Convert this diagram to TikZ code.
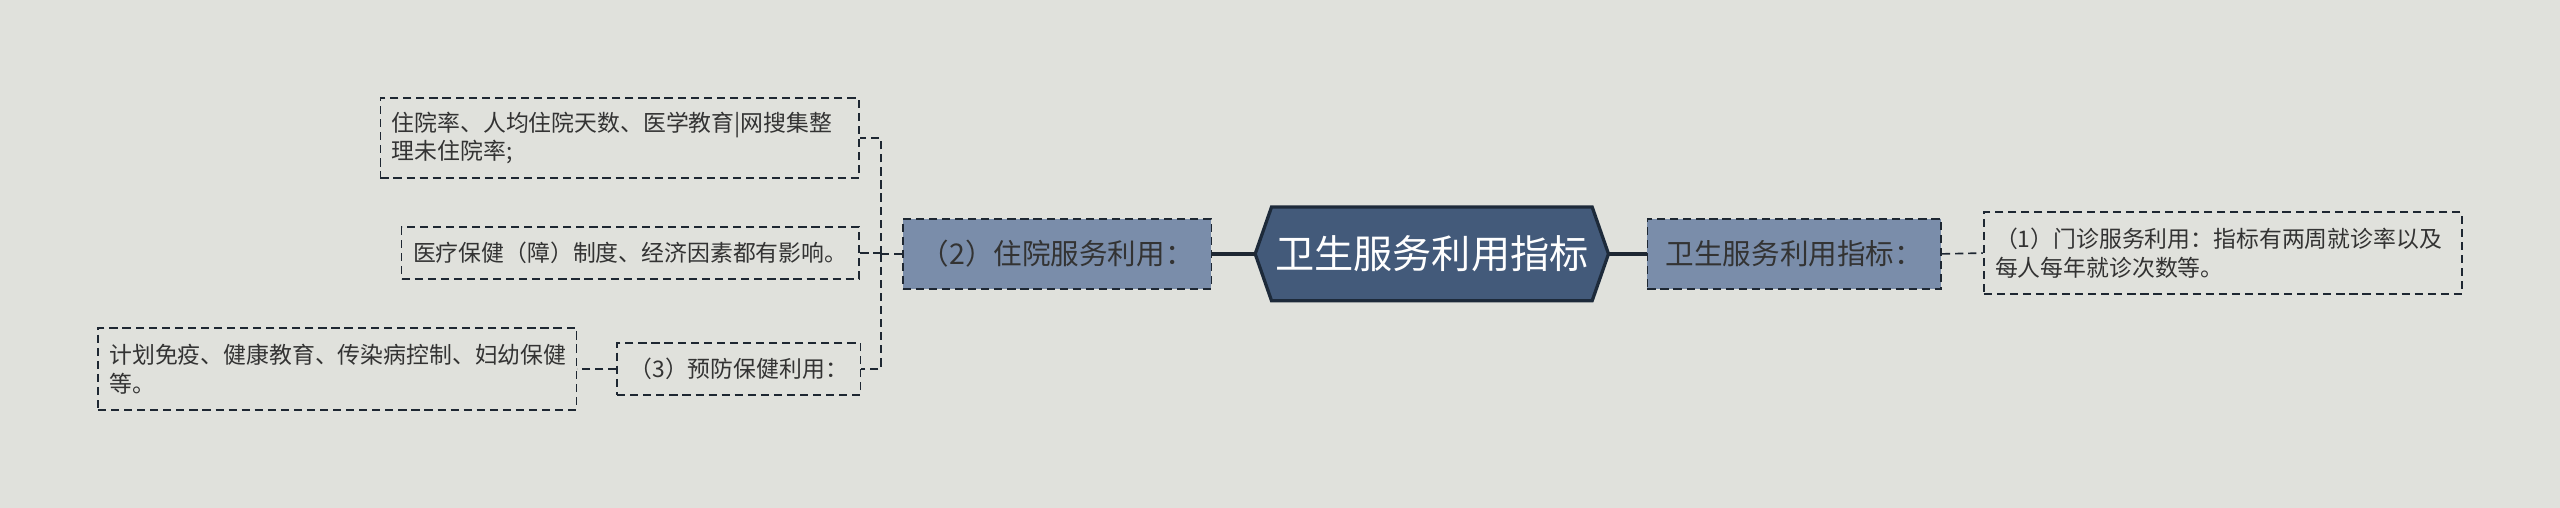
\documentclass[tikz,border=0pt]{standalone}
\usepackage{fontspec}
\newfontfamily\cjk{Noto Sans CJK SC}
\usetikzlibrary{backgrounds,calc}
\definecolor{bg}{HTML}{E0E1DC}
\definecolor{rootfill}{HTML}{435A7A}
\definecolor{rootline}{HTML}{1D2A3A}
\definecolor{subfill}{HTML}{7A8DAA}
\definecolor{lineclr}{HTML}{1E2732}
\definecolor{txt}{HTML}{333333}
\begin{document}
\begin{tikzpicture}[x=1pt,y=-1pt,
 leaf/.style={draw=lineclr, dash pattern=on 5pt off 3pt, line width=1pt,
   font=\cjk\fontsize{14}{17.5}\selectfont, text=txt, inner xsep=7pt, inner ysep=0pt, align=left},
 sub/.style={leaf, fill=subfill, font=\cjk\fontsize{17.5}{20}\selectfont, text=txt, align=center},
 rootnode/.style={minimum width=196pt, minimum height=57pt, inner sep=0pt,
   font=\cjk\fontsize{24}{27}\selectfont, text=white},
 conn/.style={draw=lineclr, line width=1pt, dash pattern=on 5pt off 3pt},
 rootconn/.style={draw=lineclr, line width=2.5pt}]
\begin{pgfonlayer}{background}
\fill[bg] (0,0) rectangle (1568,311);
\end{pgfonlayer}
\useasboundingbox (0,0) rectangle (1568,311);

\node[rootnode] (root) at (877,155.5) {卫生服务利用指标};
\coordinate (rootR) at ([xshift=10pt]root.east);
\coordinate (rootL) at ([xshift=-10pt]root.west);
\begin{pgfonlayer}{background}
\draw[fill=rootfill, draw=rootline, line width=2pt, line join=miter]
  (root.north west) -- (root.north east) -- (rootR) -- (root.south east)
  -- (root.south west) -- (rootL) -- cycle;
\end{pgfonlayer}

\node[sub, minimum width=180pt, minimum height=43pt] (rs) at (1099,155.5) {卫生服务利用指标：};
\node[leaf, text width=279pt, minimum height=50pt] (rl) at (1361.5,155) {（1）门诊服务利用：指标有两周就诊率以及\\每人每年就诊次数等。};

\node[sub, minimum width=189pt, minimum height=43pt] (ls) at (647.5,155.5) {（2）住院服务利用：};
\node[leaf, text width=279pt, minimum height=49pt] (l1) at (379.5,84.5) {住院率、人均住院天数、医学教育|网搜集整\\理未住院率;};
\node[leaf, minimum width=280pt, minimum height=32pt, align=center] (l2) at (386,155) {医疗保健（障）制度、经济因素都有影响。};
\node[leaf, minimum width=149pt, minimum height=32pt, align=center] (n3) at (452.5,226) {（3）预防保健利用：};
\node[leaf, text width=279pt, minimum height=50pt] (l3) at (206.5,226) {计划免疫、健康教育、传染病控制、妇幼保健\\等。};

\draw[rootconn] (rootR) -- (rs.west);
\draw[rootconn] (rootL) -- (ls.east);
\draw[conn] (rs.east) -- (rl.west);
\coordinate (lsj) at ($(ls.west)+(-13,0)$);
\draw[conn] (ls.west) -- (lsj);
\draw[conn] (lsj) |- (l1.east);
\draw[conn] (lsj) |- (l2.east);
\draw[conn] (lsj) |- (n3.east);
\draw[conn] (n3.west) -- (l3.east);
\end{tikzpicture}
\end{document}
